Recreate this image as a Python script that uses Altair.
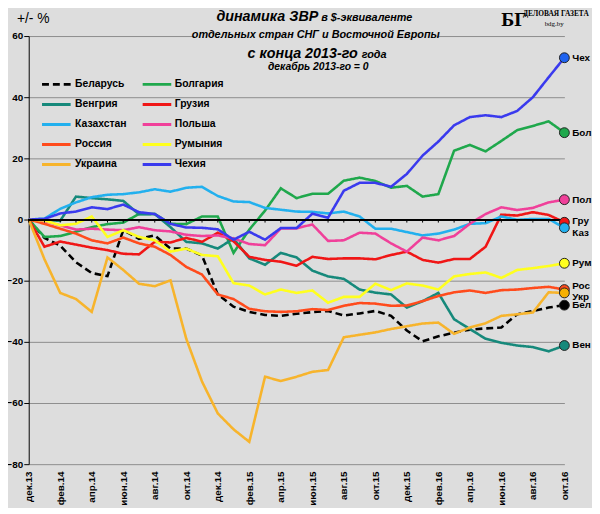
import altair as alt
import pandas as pd

# months from Dec 2013 to Oct 2016
months = ["дек.13", "янв.14", "фев.14", "мар.14", "апр.14", "май.14", "июн.14",
          "июл.14", "авг.14", "сен.14", "окт.14", "ноя.14", "дек.14", "янв.15",
          "фев.15", "мар.15", "апр.15", "май.15", "июн.15", "июл.15", "авг.15",
          "сен.15", "окт.15", "ноя.15", "дек.15", "янв.16", "фев.16", "мар.16",
          "апр.16", "май.16", "июн.16", "июл.16", "авг.16", "сен.16", "окт.16"]

countries = ["Беларусь", "Болгария", "Венгрия", "Грузия", "Казахстан",
             "Польша", "Россия", "Румыния", "Украина", "Чехия"]
short_names = ["Бел", "Бол", "Вен", "Гру", "Каз", "Пол", "Рос", "Рум", "Укр", "Чех"]

belarus = [0, -6, -8.5, -14, -17.5, -18.5, -3.5, -6.3, -5.2, -9.5, -9.5, -11.8,
           -24.5, -28.5, -30.2, -31.2, -31.5, -30.8, -30.3, -29.9, -31.4, -30.7,
           -29.9, -31.5, -36.3, -39.8, -38.2, -37, -36, -35.6, -35.3, -31, -29.9,
           -28.8, -28]
bulgaria = [0, -5.7, -5.4, -4, -2.5, -1.5, -1, 1.8, 1.8, -1.4, -1.5, 1.0, 1.0,
            -10.9, -3.3, 2.9, 10.2, 7.0, 8.4, 8.4, 12.7, 13.7, 12.6, 10.4, 11,
            7.5, 8.3, 22.5, 24.4, 22.3, 25.7, 29.2, 30.6, 32.1, 28.4]
hungary = [0, -0.2, -0.4, 7.5, 7.0, 6.6, 6.1, 1.7, 1.8, -2.5, -7.3, -7.8, -9.5,
           -6.2, -12.7, -14.8, -10.9, -12.4, -16.7, -18.6, -19.4, -22.9, -23.9,
           -24.5, -28.8, -26.7, -24, -32.6, -35.8, -39, -40.3, -41.2, -41.7,
           -43.1, -41.2]
georgia = [0, -8.9, -7.2, -8.2, -9.2, -10, -11.2, -11.4, -7.3, -7.5, -6, -7.3,
           -4.3, -7.1, -12.2, -13.2, -13.8, -15.1, -12.2, -12.9, -12.7, -12.7,
           -13, -11.6, -10.5, -13.2, -14.1, -12.9, -12.9, -8.9, 1.6, 1.3, 2.4,
           1.5, -0.9]
kazakhstan = [0, 0.3, 3.5, 5.6, 7.3, 8.1, 8.3, 8.9, 9.9, 9.1, 10.4, 10.7, 7.7,
              5.9, 5.7, 3.8, 3.2, 2.6, 2.5, 2.0, 2.6, 1.0, -3.0, -3.0, -4.1,
              -5.2, -4.6, -3.3, -1.4, -1.2, 1.0, -0.1, 0.2, 0.2, -2.7]
poland = [0, -0.5, -1.9, -3.3, -3.0, -3.3, -3.5, -2.5, -3.5, -3.9, -5.0, -5.4,
          -5.2, -6.2, -8.0, -8.4, -2.9, -2.9, -1.6, -7.0, -6.8, -4.3, -4.6, -7.8,
          -10.5, -5.9, -6.8, -5.4, -1.4, 1.8, 4.0, 3.1, 3.8, 5.6, 6.5]
russia = [0, -1.4, -3, -4.6, -6.8, -7.8, -5.9, -7.8, -8.9, -11.6, -15.5, -18,
          -24.5, -26, -29.2, -30, -30.2, -30, -29.3, -29.6, -28.2, -27.3, -27.5,
          -28.2, -28.1, -26.7, -25, -23.8, -23.2, -24, -23.1, -22.9, -22.4, -22,
          -22.9]
romania = [0, -0.3, -1.9, -1.4, 1.0, -5.7, -3.5, -5.7, -6.8, -10.5, -9.5, -11.6,
           -12, -20.8, -21.6, -24.5, -22.9, -24, -23.2, -27.2, -25.3, -25.3, -21,
           -23.1, -20.9, -21.6, -22.9, -18.6, -17.8, -17.3, -19.1, -16.5, -15.9,
           -15.2, -14.3]
ukraine = [0, -13, -24, -26, -30.2, -12.4, -16.5, -21, -21.8, -19.9, -39, -53,
           -63.4, -68.6, -72.7, -51.4, -52.8, -51.4, -49.8, -49.2, -38.5, -37.7,
           -36.9, -35.8, -34.9, -34, -33.7, -37.4, -35.3, -33.9, -31.5, -31,
           -30.4, -23.8, -24]
czechia = [0, 0.2, 2.0, 2.6, 4.0, 3.4, 4.9, 2.4, 1.8, -1.4, -2.6, -2.7, -3.2,
           -6.6, -4.0, -6.6, -2.8, -2.8, 1.9, 0.6, 9.4, 12.0, 12.0, 10.7, 14.9,
           20.9, 25.5, 30.8, 33.5, 34.1, 33.5, 35.5, 40, 46.5, 52.9]

series = [belarus, bulgaria, hungary, georgia, kazakhstan,
          poland, russia, romania, ukraine, czechia]

line_colors = ["#000000", "#1fa84c", "#16897b", "#f01616", "#22b0ee",
               "#f0409a", "#ff4b1c", "#ffff1e", "#f7b42c", "#3a3aee"]
dot_colors = ["#000000", "#1fa84c", "#16897b", "#f01616", "#22b0ee",
              "#f0409a", "#ff4b1c", "#ffff1e", "#f7b000", "#1f63f0"]
dashes = [[7, 4]] + [[1, 0]] * 9

BG = "#dddddd"
FONT = "Liberation Sans"
W, H = 543, 434
YMIN, YMAX = -80, 60
XMAX = len(months) - 1


def to_x(px):
    return px / W * XMAX


def to_y(py):
    return YMAX - py / H * (YMAX - YMIN)


rows = []
for name, vals in zip(countries, series):
    for i, v in enumerate(vals):
        rows.append({"country": name, "m": i, "value": v})
df = pd.DataFrame(rows)

last = df[df["m"] == XMAX].copy()
last["short"] = short_names
label_shift = {"Гру": -1, "Каз": 5, "Рос": -4, "Укр": 4}
last["dy"] = [label_shift.get(s, 0) for s in short_names]

month_df = pd.DataFrame({"m": list(range(len(months)))})

# legend table, two columns
leg = pd.DataFrame({"country": countries})
leg["col"] = [k % 2 for k in range(len(countries))]
leg["row"] = [k // 2 for k in range(len(countries))]
leg["lx"] = [to_x(13.5 + c * 102) for c in leg["col"]]
leg["lx2"] = [to_x(42.5 + c * 102) for c in leg["col"]]
leg["tx"] = [to_x(47 + c * 101) for c in leg["col"]]
leg["ly"] = [to_y(49 + r * 20.3) for r in leg["row"]]

color = alt.Color("country:N", scale=alt.Scale(domain=countries, range=line_colors), legend=None)
dash = alt.StrokeDash("country:N", scale=alt.Scale(domain=countries, range=dashes), legend=None)
xs = alt.Scale(domain=[0, XMAX], nice=False)
ys = alt.Scale(domain=[YMIN, YMAX], nice=False)

label_expr = "[" + ",".join("'%s'" % m for m in months) + "][datum.value]"

lines = alt.Chart(df).mark_line(strokeWidth=2.6).encode(
    x=alt.X("m:Q", scale=xs, axis=alt.Axis(
        orient="bottom", values=list(range(0, XMAX + 1, 2)), labelExpr=label_expr,
        labelAngle=270, labelAlign="right", labelBaseline="middle", labelPadding=7,
        labelFont=FONT, labelFontWeight="bold", labelFontSize=10, labelColor="black",
        domain=False, ticks=False, grid=False, title=None)),
    y=alt.Y("value:Q", scale=ys, axis=alt.Axis(
        values=list(range(YMIN, YMAX + 1, 20)), grid=True, gridColor="#8c8c8c",
        gridWidth=1, domainColor="black", tickColor="black", tickSize=5,
        labelFont=FONT, labelFontWeight="bold", labelFontSize=10, labelColor="black",
        labelPadding=1, title=None)),
    color=color,
    strokeDash=dash,
    detail="country:N",
)

# zero line with a tick at every month
zero_line = alt.Chart(month_df).mark_rule(color="black", strokeWidth=1.3).encode(
    x=alt.XDatum(0, scale=xs, axis=None), x2=alt.X2Datum(XMAX),
    y=alt.YDatum(0, scale=ys, axis=None),
)
zero_ticks = alt.Chart(month_df).mark_rule(color="black", strokeWidth=1).encode(
    x=alt.X("m:Q", scale=xs, axis=None),
    y=alt.YDatum(0, scale=ys, axis=None), y2=alt.Y2Datum(-1),
)

# background patch that breaks the top grid line behind the subtitle
patch = alt.Chart(month_df.head(1)).mark_rect(color=BG).encode(
    x=alt.value(168), x2=alt.value(414), y=alt.value(-4), y2=alt.value(4),
)

dots = alt.Chart(last).mark_circle(size=100, opacity=1, stroke="#222222", strokeWidth=1).encode(
    x=alt.X("m:Q", scale=xs, axis=None),
    y=alt.Y("value:Q", scale=ys, axis=None),
    fill=alt.Fill("country:N", scale=alt.Scale(domain=countries, range=dot_colors), legend=None),
)

end_labels = []
for off in sorted(set(last["dy"])):
    end_labels.append(
        alt.Chart(last[last["dy"] == off]).mark_text(
            align="left", baseline="middle", dx=8, dy=off, font=FONT,
            fontWeight="bold", fontSize=10, color="black").encode(
            x=alt.X("m:Q", scale=xs, axis=None),
            y=alt.Y("value:Q", scale=ys, axis=None),
            text="short:N")
    )

leg_lines = alt.Chart(leg).mark_rule(strokeWidth=3).encode(
    x=alt.X("lx:Q", scale=xs, axis=None), x2="lx2:Q",
    y=alt.Y("ly:Q", scale=ys, axis=None),
    color=color, strokeDash=dash,
)
leg_text = alt.Chart(leg).mark_text(
    align="left", baseline="middle", font=FONT, fontWeight="bold",
    fontSize=10.5, color="black").encode(
    x=alt.X("tx:Q", scale=xs, axis=None),
    y=alt.Y("ly:Q", scale=ys, axis=None),
    text="country:N",
)


def note(text, x, y, size, align="left", bold=True, italic=True, font=FONT):
    return alt.Chart(pd.DataFrame({"t": [text]})).mark_text(
        align=align, baseline="alphabetic", fontSize=size, font=font,
        fontWeight="bold" if bold else "normal",
        fontStyle="italic" if italic else "normal", color="black",
    ).encode(x=alt.value(x), y=alt.value(y), text="t:N")


notes = [
    note("+/- %", -12, -13, 14, bold=False, italic=False),
    note("динамика ЗВР", 293.5, -15, 14.5, align="right"),
    note("в $-эквиваленте", 296.5, -15, 11),
    note("отдельных  стран СНГ и Восточной Европы", 291, 2, 11, align="center"),
    note("с конца 2013-го", 333.5, 22, 14.5, align="right"),
    note("года", 337.5, 22, 11),
    note("декабрь 2013-го  = 0", 293.5, 34, 10.5, align="center"),
    note("БГ", 479, -10, 20, italic=False, font="Liberation Serif"),
    note("ДЕЛОВАЯ ГАЗЕТА", 501, -20, 7.5, italic=False, font="Liberation Serif"),
    note("bdg.by", 523, -10, 7, bold=False, italic=False, font="Liberation Serif"),
]

chart = alt.layer(
    lines, zero_line, zero_ticks, patch, leg_lines, leg_text, dots, *end_labels, *notes
).resolve_axis(
    x="independent", y="independent"
).properties(
    width=W, height=H,
    autosize=alt.AutoSizeParams(type="none"),
    padding={"left": 21, "top": 25, "right": 28, "bottom": 41},
    background=BG,
).configure_view(stroke=None)

chart.save("out.html", embed_options={"renderer": "svg", "actions": False})
